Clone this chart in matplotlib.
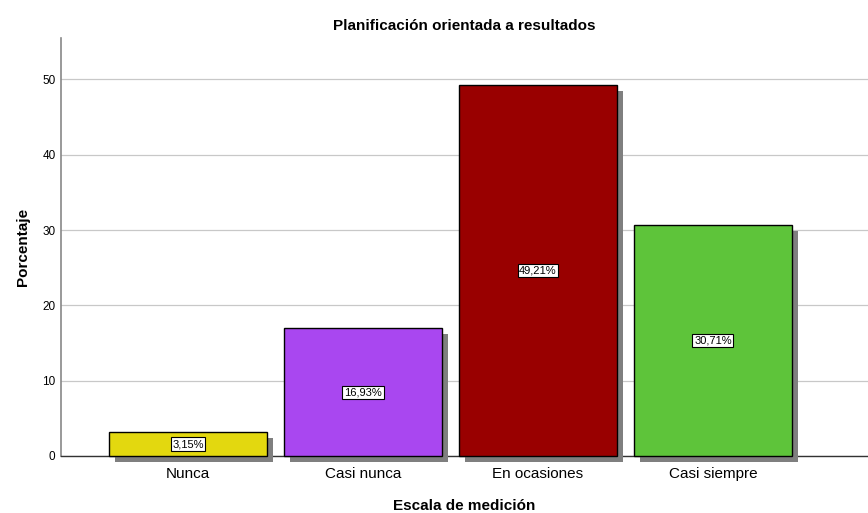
import matplotlib
matplotlib.use("Agg")
import matplotlib.pyplot as plt
import matplotlib.patheffects as pe

categories = ["Nunca", "Casi nunca", "En ocasiones", "Casi siempre"]
values = [3.15, 16.93, 49.21, 30.71]
labels = ["3,15%", "16,93%", "49,21%", "30,71%"]
colors = ["#e3d80f", "#a947f0", "#990000", "#5ec43a"]

plt.rcParams['font.family'] = ['Liberation Sans', 'DejaVu Sans']

fig = plt.figure(figsize=(8.68, 5.13), dpi=100)
ax = fig.add_axes([61/868, 57/513, 1 - 61/868, (456-38)/513])

x = list(range(len(categories)))
bars = ax.bar(x, values, width=0.9, color=colors, edgecolor="black", linewidth=1.0,
               zorder=3, clip_on=False)
for b in bars:
    b.set_path_effects([pe.SimplePatchShadow(offset=(4.3, -4.3), shadow_rgbFace="#7f7f7f", alpha=1.0),
                        pe.Normal()])

for xi, v, lab in zip(x, values, labels):
    ax.text(xi, v / 2, lab, ha="center", va="center", fontsize=8, zorder=5,
            bbox=dict(boxstyle="square,pad=0.15", facecolor="white", edgecolor="black", linewidth=0.8))

ax.set_xlim(-0.726, 3.886)
ax.set_ylim(0, 55.5)
ax.set_yticks([0, 10, 20, 30, 40, 50])
ax.set_xticks(x)
ax.set_xticklabels(categories, fontsize=11)
ax.tick_params(axis="x", length=0, pad=8)
ax.tick_params(axis="y", length=0, labelsize=8.5, pad=4)
ax.yaxis.grid(True, color="#c8c8c8", linewidth=0.9, zorder=0)
ax.set_axisbelow(True)
for s in ["top", "right"]:
    ax.spines[s].set_visible(False)
ax.spines["left"].set_color("#888888")
ax.spines["left"].set_linewidth(1.2)
ax.spines["bottom"].set_color("#333333")
ax.spines["bottom"].set_linewidth(1.0)

ax.set_title("Planificación orientada a resultados", fontsize=11, fontweight="bold", pad=6)
ax.set_xlabel("Escala de medición", fontsize=11, fontweight="bold", labelpad=13)
ax.set_ylabel("Porcentaje", fontsize=11, fontweight="bold", labelpad=9)

fig.savefig("out.png", dpi=100)
